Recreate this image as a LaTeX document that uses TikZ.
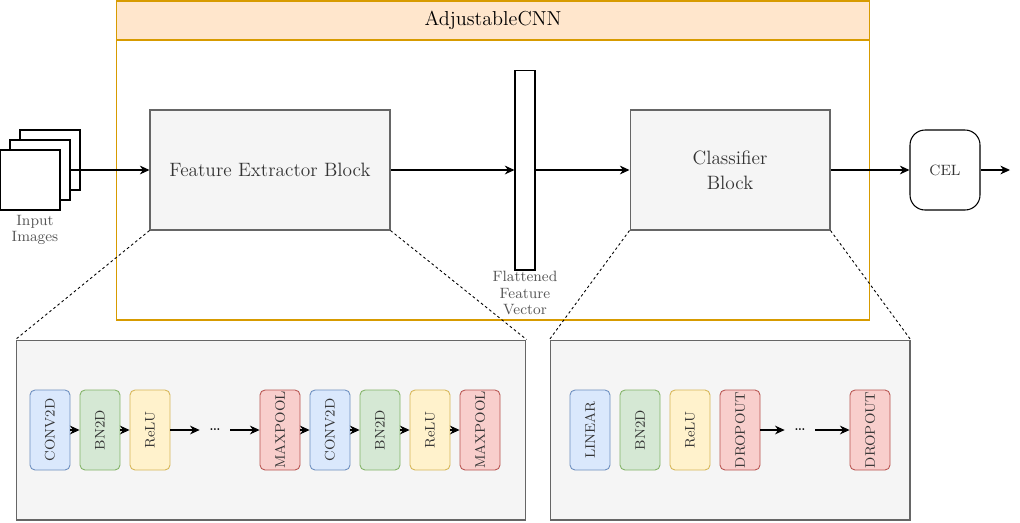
\documentclass[tikz,border=0pt]{standalone}
\usepackage{graphicx}
\usetikzlibrary{arrows.meta}

\definecolor{hdrfill}{HTML}{FFE6CC}
\definecolor{hdrline}{HTML}{D79B00}
\definecolor{grayfill}{HTML}{F5F5F5}
\definecolor{grayline}{HTML}{666666}
\definecolor{bluefill}{HTML}{DAE8FC}
\definecolor{blueline}{HTML}{6C8EBF}
\definecolor{greenfill}{HTML}{D5E8D4}
\definecolor{greenline}{HTML}{82B366}
\definecolor{yellowfill}{HTML}{FFF2CC}
\definecolor{yellowline}{HTML}{D6B656}
\definecolor{redfill}{HTML}{F8CECC}
\definecolor{redline}{HTML}{B85450}
\definecolor{txt}{HTML}{333333}
\definecolor{lbl}{HTML}{555555}

\tikzset{
  arr/.style={-{Stealth[length=5.5pt,width=5pt]}, line width=0.6pt},
  zoomline/.style={dash pattern=on 1.5pt off 1.5pt, line width=0.5pt},
  bigbox/.style={draw=grayline, fill=grayfill, line width=0.6pt, inner sep=0pt,
    text=txt, align=center, font=\fontsize{11}{14}\selectfont},
  panel/.style={draw=grayline, fill=grayfill, line width=0.6pt, inner sep=0pt,
    minimum height=3.6cm},
  img/.style={draw, fill=white, line width=0.7pt, minimum size=1.2cm, inner sep=0pt},
  layer/.style={rounded corners=0.1cm, line width=0.5pt, inner sep=0pt,
    minimum width=0.8cm, minimum height=1.6cm, text=txt, font=\fontsize{7.9}{9}\selectfont},
  conv/.style={layer, draw=blueline, fill=bluefill},
  bnorm/.style={layer, draw=greenline, fill=greenfill},
  relu/.style={layer, draw=yellowline, fill=yellowfill},
  pool/.style={layer, draw=redline, fill=redfill},
  gap/.style={inner sep=0pt, minimum width=0.6cm, minimum height=0.4cm},
  small/.style={text=lbl, align=center, font=\fontsize{8.5}{9.2}\selectfont},
}

\begin{document}
\begin{tikzpicture}[x=0.02cm, y=-0.02cm]
  \useasboundingbox (0,0) rectangle (1020,522);

  % AdjustableCNN frame with its header
  \node[draw=hdrline, line width=0.6pt, minimum width=15.08cm, minimum height=6.38cm,
    inner sep=0pt] (cnn) at (493,160.5) {};
  \node[draw=hdrline, fill=hdrfill, line width=0.6pt, minimum width=15.08cm,
    minimum height=0.78cm, inner sep=0pt, font=\fontsize{11.5}{13}\selectfont] (title)
    at (493,20.5) {AdjustableCNN};

  % input images
  \node[img] (img3) at (50,160) {};
  \node[img] (img2) at (40,170) {};
  \node[img] (img1) at (30,180) {};
  \node[small] (inlbl) at (35,230) {Input\\Images};

  % top row
  \node[bigbox, minimum width=4.8cm, minimum height=2.4cm] (feat) at (270,170)
    {Feature Extractor Block};
  \node[draw, fill=white, line width=0.6pt, minimum width=0.4cm, minimum height=4cm,
    inner sep=0pt] (vec) at (525,170) {};
  \node[small] (veclbl) at (525,293) {Flattened\\Feature\\Vector};
  \node[bigbox, minimum width=4cm, minimum height=2.4cm] (clf) at (730,170)
    {Classifier\\Block};
  \node[draw, fill=white, rounded corners=0.3cm, line width=0.6pt, minimum width=1.4cm,
    minimum height=1.6cm, inner sep=0pt, text=txt, font=\fontsize{8.5}{10}\selectfont] (cel)
    at (945,170) {CEL};
  \coordinate (out) at (1010,170);

  \draw[arr] (img2.east) -- (feat.west);
  \draw[arr] (feat.east) -- (vec.west);
  \draw[arr] (vec.east) -- (clf.west);
  \draw[arr] (clf.east) -- (cel.west);
  \draw[arr] (cel.east) -- (out);

  % bottom panels
  \node[panel, minimum width=10.2cm] (featpanel) at (271,430) {};
  \node[panel, minimum width=7.2cm] (clfpanel) at (730,430) {};

  \draw[zoomline] (feat.south west) -- (featpanel.north west);
  \draw[zoomline] (feat.south east) -- (featpanel.north east);
  \draw[zoomline] (clf.south west) -- (clfpanel.north west);
  \draw[zoomline] (clf.south east) -- (clfpanel.north east);

  % feature extractor layers
  \node[conv] (conva) at (50,430) {\rotatebox{90}{CONV2D}};
  \node[bnorm] (bna) at (100,430) {\rotatebox{90}{BN2D}};
  \node[relu] (relua) at (150,430) {\rotatebox{90}{ReLU}};
  \node[gap] (dotsa) at (215,430) {\ldots};
  \node[pool] (poola) at (280,430) {\rotatebox{90}{MAXPOOL}};
  \node[conv] (convb) at (330,430) {\rotatebox{90}{CONV2D}};
  \node[bnorm] (bnb) at (380,430) {\rotatebox{90}{BN2D}};
  \node[relu] (relub) at (430,430) {\rotatebox{90}{ReLU}};
  \node[pool] (poolb) at (480,430) {\rotatebox{90}{MAXPOOL}};

  \draw[arr] (conva) -- (bna);
  \draw[arr] (bna) -- (relua);
  \draw[arr] (relua) -- (dotsa);
  \draw[arr] (dotsa) -- (poola);
  \draw[arr] (poola) -- (convb);
  \draw[arr] (convb) -- (bnb);
  \draw[arr] (bnb) -- (relub);
  \draw[arr] (relub) -- (poolb);

  % classifier layers
  \node[conv] (lin) at (590,430) {\rotatebox{90}{LINEAR}};
  \node[bnorm] (bnc) at (640,430) {\rotatebox{90}{BN2D}};
  \node[relu] (reluc) at (690,430) {\rotatebox{90}{ReLU}};
  \node[pool] (dropa) at (740,430) {\rotatebox{90}{DROPOUT}};
  \node[gap] (dotsb) at (800,430) {\ldots};
  \node[pool] (dropb) at (870,430) {\rotatebox{90}{DROPOUT}};

  \draw[arr] (dropa) -- (dotsb);
  \draw[arr] (dotsb) -- (dropb);
\end{tikzpicture}
\end{document}
